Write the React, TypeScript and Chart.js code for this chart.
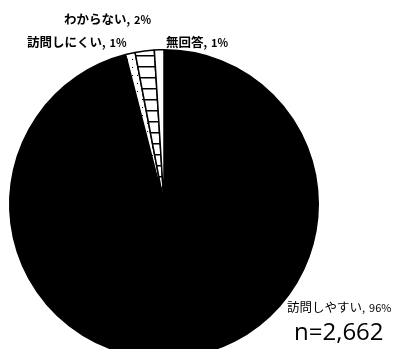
import React, { useEffect, useRef } from "react";
import { Chart, registerables } from "chart.js";

Chart.register(...registerables);

// ---- data ----
const categories = ["訪問しやすい", "訪問しにくい", "わからない", "無回答"];
const shares = [96, 1, 2, 1];
const sampleLabel = "n=2,662";

// ---- label placement (left x, middle y) ----
const labelSpots = [
  { x: 287, y: 307, bold: false },
  { x: 27, y: 42, bold: true },
  { x: 64, y: 19, bold: true },
  { x: 166, y: 42, bold: true },
];

function makeLadder(): CanvasPattern | string {
  const c = document.createElement("canvas");
  c.width = 10;
  c.height = 11;
  const g = c.getContext("2d");
  if (!g) return "#fff";
  g.fillStyle = "#fff";
  g.fillRect(0, 0, 10, 11);
  g.fillStyle = "#000";
  g.fillRect(0, 0, 10, 1.5);
  return g.createPattern(c, "repeat") || "#fff";
}

function makeDots(): CanvasPattern | string {
  const c = document.createElement("canvas");
  c.width = 5;
  c.height = 8;
  const g = c.getContext("2d");
  if (!g) return "#fff";
  g.fillStyle = "#fff";
  g.fillRect(0, 0, 5, 8);
  g.fillStyle = "#000";
  g.fillRect(2, 3, 1, 1);
  return g.createPattern(c, "repeat") || "#fff";
}

const labelPlugin = {
  id: "sliceLabels",
  afterDraw(chart: any) {
    const ctx = chart.ctx as CanvasRenderingContext2D;
    ctx.save();
    ctx.fillStyle = "#000";
    ctx.textBaseline = "middle";
    ctx.textAlign = "left";
    categories.forEach((name, i) => {
      const spot = labelSpots[i];
      ctx.font = `${spot.bold ? "bold " : ""}12.5px "Noto Sans CJK JP"`;
      ctx.fillText(name, spot.x, spot.y);
      let x = spot.x + ctx.measureText(name).width;
      ctx.font = `${spot.bold ? "bold " : ""}11px "Noto Sans CJK JP"`;
      ctx.fillText(",", x, spot.y + 1);
      x += ctx.measureText(",").width + 4;
      ctx.fillText(`${shares[i]}%`, x, spot.y + 1);
    });
    ctx.font = `24px "Open Sans"`;
    ctx.fillText(sampleLabel, 294, 333);
    ctx.restore();
  },
};

export default function App() {
  const ref = useRef<HTMLCanvasElement>(null);
  useEffect(() => {
    if (!ref.current) return;
    const chart = new Chart(ref.current, {
      type: "pie",
      data: {
        labels: categories,
        datasets: [
          {
            data: shares,
            backgroundColor: ["#000", makeDots(), makeLadder(), "#fff"],
            borderColor: "#000",
            borderWidth: 1.5,
          },
        ],
      },
      options: {
        responsive: false,
        animation: false,
        events: [],
        layout: { padding: { left: 9, top: 49, right: 77, bottom: 41 } },
        plugins: {
          legend: { display: false },
          tooltip: { enabled: false },
        },
      },
      plugins: [labelPlugin],
    });
    return () => chart.destroy();
  }, []);
  return (
    <div
      style={{
        position: "absolute",
        left: 0,
        top: 0,
        width: 396,
        height: 349,
        overflow: "hidden",
        background: "#fff",
      }}
    >
      <canvas ref={ref} width={396} height={400} style={{ display: "block" }} />
    </div>
  );
}
